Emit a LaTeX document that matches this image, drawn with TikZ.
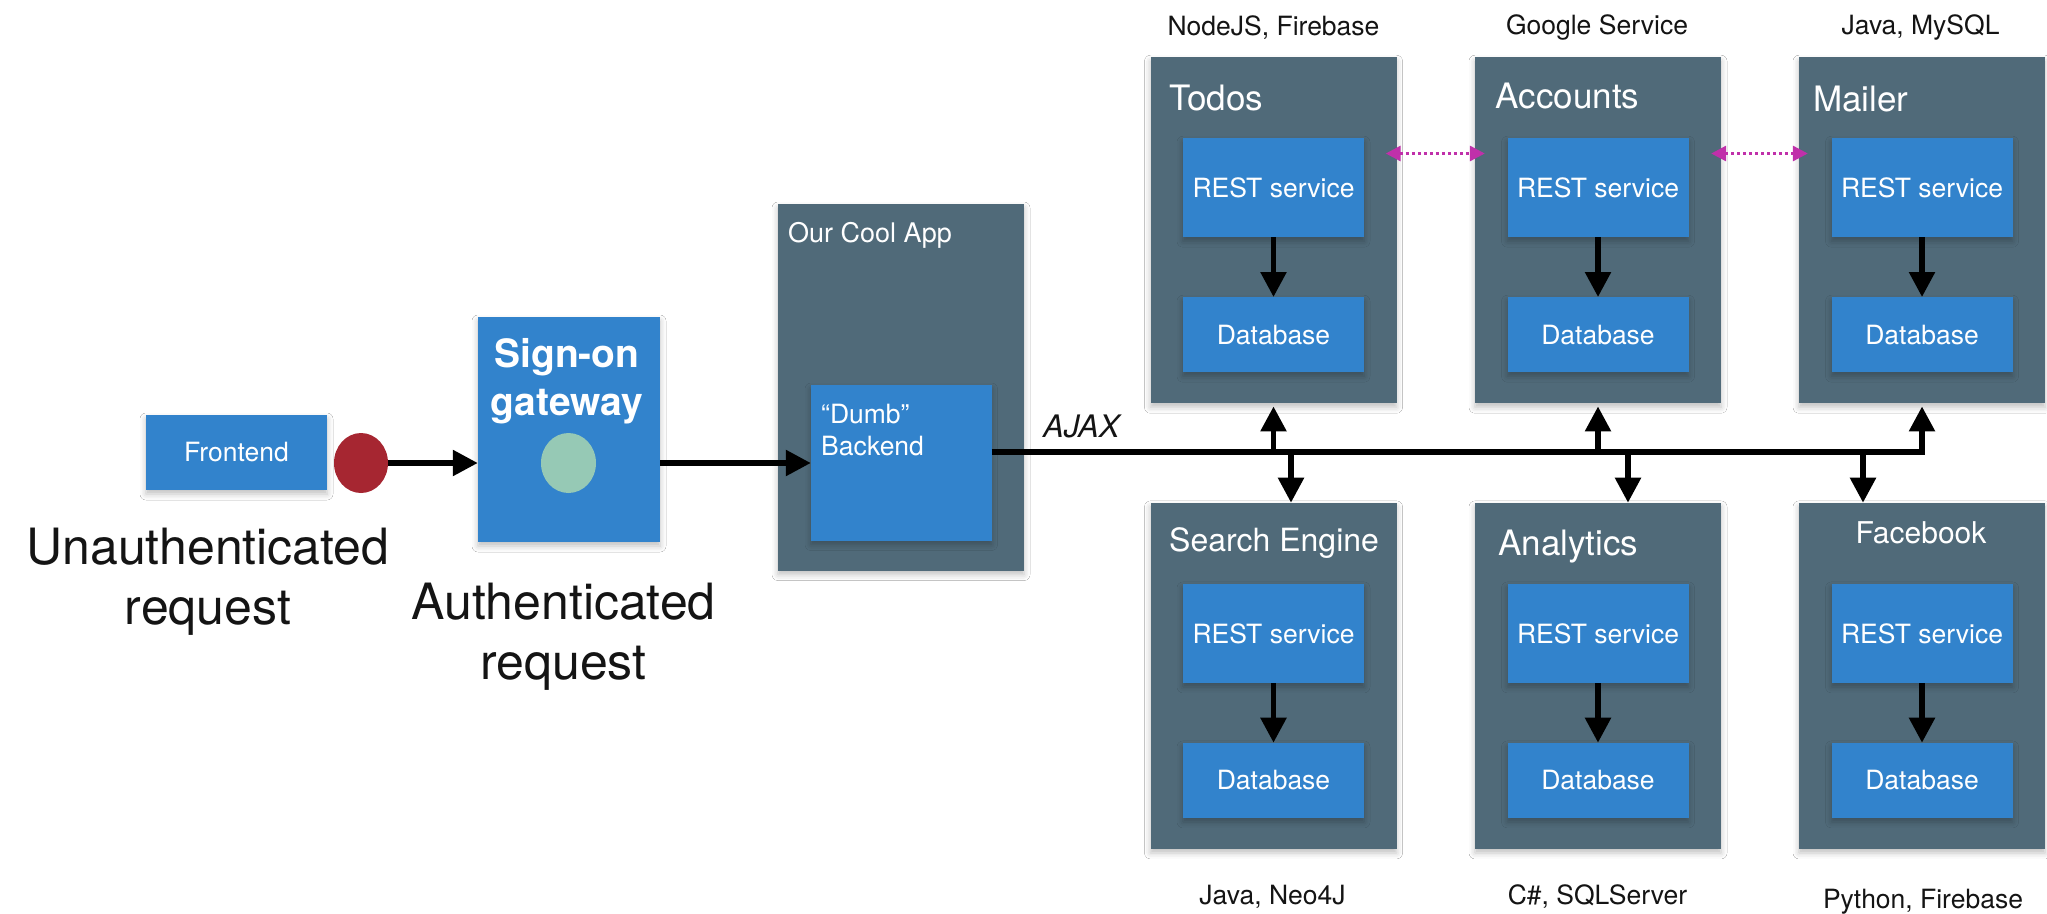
\documentclass[tikz,border=0pt]{standalone}
\usepackage{fontspec}
\setmainfont{TeX Gyre Heros}
\usetikzlibrary{arrows.meta,shapes.geometric,shadows.blur}

\definecolor{slate}{RGB}{80,106,121}
\definecolor{tileblue}{RGB}{50,131,204}
\definecolor{tokenred}{RGB}{166,38,49}
\definecolor{passgreen}{RGB}{150,201,181}
\definecolor{linkpink}{RGB}{192,48,170}
\definecolor{ink}{RGB}{20,20,20}

\tikzset{
  boxshadow/.style={blur shadow={shadow xshift=0pt, shadow yshift=-4pt,
      shadow blur radius=6pt, shadow opacity=25}},
  panel/.style={rectangle, fill=slate, draw=none, inner sep=0pt, boxshadow},
  tile/.style={rectangle, fill=tileblue, draw=none, inner sep=0pt, text=white,
      font={\fontsize{26.5}{32}\selectfont}, boxshadow},
  ptitle/.style={anchor=base west, inner sep=0pt, text=white},
  tech/.style={anchor=base, inner sep=0pt, text=ink,
      font={\fontsize{26.5}{32}\selectfont}},
  biglabel/.style={anchor=north, inner sep=0pt, text=ink, align=center,
      font={\fontsize{50}{60}\selectfont}},
  flow/.style={draw=black, line width=5.5pt,
      -{Triangle[length=25pt,width=25pt]}},
  sync/.style={draw=linkpink, line width=3pt, dash pattern=on 3pt off 3pt,
      {Triangle[length=15pt,width=15pt]}-{Triangle[length=15pt,width=15pt]}},
}

% one service: outer panel, REST tile, database tile and the arrow between them
\newcommand{\svcblock}[3]{%
  \node[panel, minimum width=246pt, minimum height=346pt, anchor=north] (#1) at (#2,#3) {};
  \node[tile, minimum width=181pt, minimum height=99pt, anchor=north] (#1r) at (#2,#3+81) {REST service};
  \node[tile, minimum width=181pt, minimum height=75pt, anchor=north] (#1d) at (#2,#3+240) {Database};
  \draw[flow] (#1r) -- (#1d);
}

\begin{document}
\begin{tikzpicture}[x=1pt, y=-1pt]
  \fill[white] (0,0) rectangle (2047,913);
  \path[use as bounding box] (0,0) rectangle (2047,913);

  % ---- client side ----
  \node[tile, minimum width=181pt, minimum height=75pt] (frontend) at (236.5,452.5) {Frontend};
  \node[ellipse, fill=tokenred, inner sep=0pt, minimum width=54pt, minimum height=60pt] (token) at (361,463) {};
  \node[biglabel] (unauth) at (208,528) {Unauthenticated\\request};

  \node[tile, minimum width=182pt, minimum height=225pt] (signon) at (569,429.5) {};
  \node[anchor=north, inner sep=0pt, text=white, align=center,
        font={\fontsize{39}{48}\selectfont\bfseries}] (signonT) at (567,338) {Sign-on\\gateway};
  \node[ellipse, fill=passgreen, inner sep=0pt, minimum width=55pt, minimum height=60pt] (pass) at (568.5,463) {};
  \node[biglabel] (auth) at (563.5,583) {Authenticated\\request};

  % ---- application ----
  \node[panel, minimum width=246pt, minimum height=366.5pt] (app) at (901,387.25) {};
  \node[ptitle, font={\fontsize{27}{32}\selectfont}] (appT) at (788,242.7) {Our Cool App};
  \node[tile, minimum width=180.5pt, minimum height=155.5pt] (dumb) at (901.25,462.75) {};
  \node[anchor=north west, inner sep=0pt, text=white, align=left,
        font={\fontsize{26.5}{32.3}\selectfont}] (dumbT) at (821,404) {“Dumb”\\Backend};

  \draw[flow] (token.east) -- (token -| signon.west);
  \draw[flow] (pass -| signon.east) -- (pass -| dumb.west);

  % ---- services ----
  \svcblock{todos}{1273.5}{57}
  \svcblock{accounts}{1598}{57}
  \svcblock{mailer}{1922}{57}
  \svcblock{search}{1273.5}{502.7}
  \svcblock{analytics}{1598}{502.7}
  \svcblock{facebook}{1922}{502.7}

  \node[ptitle, font={\fontsize{35}{40}\selectfont}] (todosT) at (1169,110.5) {Todos};
  \node[ptitle, font={\fontsize{35}{40}\selectfont}] (accountsT) at (1495.5,108.5) {Accounts};
  \node[ptitle, font={\fontsize{35}{40}\selectfont}] (mailerT) at (1813,111) {Mailer};
  \node[ptitle, font={\fontsize{32}{38}\selectfont}] (searchT) at (1169,551) {Search Engine};
  \node[ptitle, font={\fontsize{35}{40}\selectfont}] (analyticsT) at (1498,555) {Analytics};
  \node[anchor=base, inner sep=0pt, text=white, font={\fontsize{30}{36}\selectfont}] (facebookT) at (1921,543) {Facebook};

  \node[tech] (todosX) at (1273.5,35.5) {NodeJS, Firebase};
  \node[tech] (accountsX) at (1597,34.5) {Google Service};
  \node[tech] (mailerX) at (1920.5,34.5) {Java, MySQL};
  \node[tech] (searchX) at (1272.5,904) {Java, Neo4J};
  \node[tech] (analyticsX) at (1597.5,904) {C\#, SQLServer};
  \node[tech] (facebookX) at (1923,908) {Python, Firebase};

  % ---- service-to-service links ----
  \draw[sync, shorten <=-11pt, shorten >=-10pt]
    ([yshift=76.7pt]todos.east) -- ([yshift=76.7pt]accounts.west);
  \draw[sync, shorten <=-10pt, shorten >=-9pt]
    ([yshift=76.7pt]accounts.east) -- ([yshift=76.7pt]mailer.west);

  % ---- AJAX bus ----
  \coordinate (busL) at ([yshift=10.75pt]dumb.east);
  \node[anchor=base west, inner sep=0pt, text=ink,
        font={\fontsize{31}{36}\selectfont\itshape}] (ajax) at (1043,437) {AJAX};
  \draw[flow, shorten >=3pt] (busL) -| (mailer.south);
  \draw[flow, shorten >=3pt] (todos.south |- busL) -- (todos.south);
  \draw[flow, shorten >=3pt] (accounts.south |- busL) -- (accounts.south);

  \coordinate (dropS) at (1291,0);
  \coordinate (dropA) at (1628,0);
  \coordinate (dropF) at (1863,0);
  \draw[flow] (dropS |- busL) -- (dropS |- search.north);
  \draw[flow] (dropA |- busL) -- (dropA |- analytics.north);
  \draw[flow] (dropF |- busL) -- (dropF |- facebook.north);
\end{tikzpicture}
\end{document}
